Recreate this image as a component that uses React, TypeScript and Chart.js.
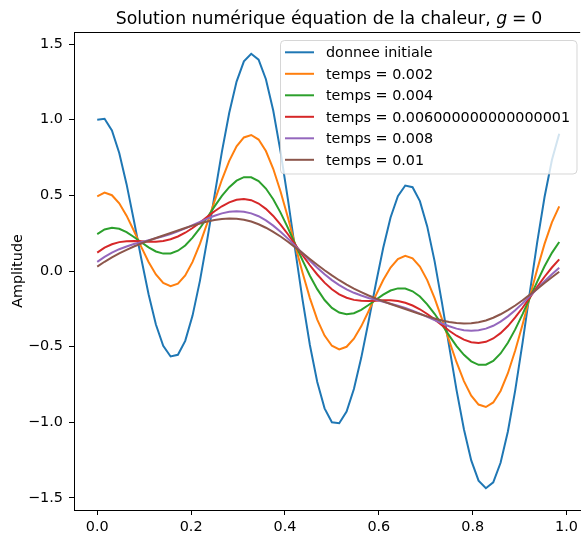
import { useEffect, useRef } from 'react';
import { Chart, registerables } from 'chart.js';

Chart.register(...registerables);

const xValues = [
  0.0, 0.0156, 0.0313, 0.0469, 0.0625, 0.0781, 0.0938, 0.1094, 0.125, 0.1406, 0.1563, 0.1719, 0.1875, 0.2031, 0.2188, 0.2344,
  0.25, 0.2656, 0.2813, 0.2969, 0.3125, 0.3281, 0.3438, 0.3594, 0.375, 0.3906, 0.4063, 0.4219, 0.4375, 0.4531, 0.4688, 0.4844,
  0.5, 0.5156, 0.5313, 0.5469, 0.5625, 0.5781, 0.5938, 0.6094, 0.625, 0.6406, 0.6563, 0.6719, 0.6875, 0.7031, 0.7188, 0.7344,
  0.75, 0.7656, 0.7813, 0.7969, 0.8125, 0.8281, 0.8438, 0.8594, 0.875, 0.8906, 0.9063, 0.9219, 0.9375, 0.9531, 0.9688, 0.9844,
];

const donneeInitiale = [
  1.0, 1.006, 0.929, 0.78, 0.574, 0.334, 0.083, -0.154, -0.354, -0.495, -0.565, -0.554, -0.462, -0.295, -0.065, 0.207,
  0.5, 0.788, 1.046, 1.252, 1.386, 1.436, 1.397, 1.268, 1.061, 0.789, 0.473, 0.138, -0.191, -0.489, -0.734, -0.908,
  -1.0, -1.006, -0.929, -0.78, -0.574, -0.334, -0.083, 0.154, 0.354, 0.495, 0.565, 0.554, 0.462, 0.295, 0.065, -0.207,
  -0.5, -0.788, -1.046, -1.252, -1.386, -1.436, -1.397, -1.268, -1.061, -0.789, -0.473, -0.138, 0.191, 0.489, 0.734, 0.908,
];

const temps0002 = [
  0.494, 0.518, 0.501, 0.448, 0.366, 0.266, 0.16, 0.06, -0.023, -0.079, -0.1, -0.084, -0.03, 0.06, 0.179, 0.316,
  0.462, 0.603, 0.728, 0.824, 0.883, 0.899, 0.869, 0.793, 0.676, 0.526, 0.353, 0.169, -0.012, -0.179, -0.321, -0.427,
  -0.494, -0.518, -0.501, -0.448, -0.366, -0.266, -0.16, -0.06, 0.023, 0.079, 0.1, 0.084, 0.03, -0.06, -0.179, -0.316,
  -0.462, -0.603, -0.728, -0.824, -0.883, -0.899, -0.869, -0.793, -0.676, -0.526, -0.353, -0.169, 0.012, 0.179, 0.321, 0.427,
];

const temps0004 = [
  0.244, 0.275, 0.286, 0.279, 0.257, 0.225, 0.19, 0.156, 0.129, 0.115, 0.116, 0.134, 0.169, 0.22, 0.283, 0.354,
  0.427, 0.496, 0.554, 0.597, 0.62, 0.619, 0.594, 0.545, 0.474, 0.386, 0.285, 0.177, 0.07, -0.031, -0.12, -0.192,
  -0.244, -0.275, -0.286, -0.279, -0.257, -0.225, -0.19, -0.156, -0.129, -0.115, -0.116, -0.134, -0.169, -0.22, -0.283, -0.354,
  -0.427, -0.496, -0.554, -0.597, -0.62, -0.619, -0.594, -0.545, -0.474, -0.386, -0.285, -0.177, -0.07, 0.031, 0.12, 0.192,
];

const temps0006 = [
  0.121, 0.154, 0.177, 0.191, 0.197, 0.198, 0.196, 0.193, 0.194, 0.199, 0.21, 0.228, 0.253, 0.284, 0.32, 0.358,
  0.395, 0.428, 0.454, 0.471, 0.476, 0.468, 0.446, 0.411, 0.364, 0.307, 0.243, 0.174, 0.105, 0.038, -0.023, -0.077,
  -0.121, -0.154, -0.177, -0.191, -0.197, -0.198, -0.196, -0.193, -0.194, -0.199, -0.21, -0.228, -0.253, -0.284, -0.32, -0.358,
  -0.395, -0.428, -0.454, -0.471, -0.476, -0.468, -0.446, -0.411, -0.364, -0.307, -0.243, -0.174, -0.105, -0.038, 0.023, 0.077,
];

const temps0008 = [
  0.06, 0.093, 0.121, 0.144, 0.162, 0.178, 0.191, 0.204, 0.216, 0.23, 0.245, 0.263, 0.282, 0.303, 0.325, 0.346,
  0.365, 0.381, 0.391, 0.395, 0.392, 0.381, 0.362, 0.335, 0.3, 0.26, 0.214, 0.166, 0.117, 0.068, 0.022, -0.021,
  -0.06, -0.093, -0.121, -0.144, -0.162, -0.178, -0.191, -0.204, -0.216, -0.23, -0.245, -0.263, -0.282, -0.303, -0.325, -0.346,
  -0.365, -0.381, -0.391, -0.395, -0.392, -0.381, -0.362, -0.335, -0.3, -0.26, -0.214, -0.166, -0.117, -0.068, -0.022, 0.021,
];

const temps001 = [
  0.029, 0.061, 0.09, 0.117, 0.14, 0.162, 0.182, 0.2, 0.218, 0.235, 0.251, 0.268, 0.284, 0.3, 0.314, 0.327,
  0.337, 0.344, 0.347, 0.345, 0.339, 0.327, 0.309, 0.286, 0.259, 0.228, 0.193, 0.156, 0.118, 0.079, 0.041, 0.005,
  -0.029, -0.061, -0.09, -0.117, -0.14, -0.162, -0.182, -0.2, -0.218, -0.235, -0.251, -0.268, -0.284, -0.3, -0.314, -0.327,
  -0.337, -0.344, -0.347, -0.345, -0.339, -0.327, -0.309, -0.286, -0.259, -0.228, -0.193, -0.156, -0.118, -0.079, -0.041, -0.005,
];

const seriesValues = [donneeInitiale, temps0002, temps0004, temps0006, temps0008, temps001];
const seriesLabels = [
  'donnee initiale',
  'temps = 0.002',
  'temps = 0.004',
  'temps = 0.006000000000000001',
  'temps = 0.008',
  'temps = 0.01',
];
const seriesColors = ['#1f77b4', '#ff7f0e', '#2ca02c', '#d62728', '#9467bd', '#8c564b'];

const xTicks = [0, 0.2, 0.4, 0.6, 0.8, 1.0];
const xTickLabels = ['0.0', '0.2', '0.4', '0.6', '0.8', '1.0'];
const yTicks = [-1.5, -1.0, -0.5, 0, 0.5, 1.0, 1.5];
const yTickLabels = ['\u22121.5', '\u22121.0', '\u22120.5', '0.0', '0.5', '1.0', '1.5'];

const titleText = 'Solution numérique équation de la chaleur, ';
const titleMathVar = 'g';
const titleMathRest = '0';
const yAxisTitle = 'Amplitude';

const FONT = '"DejaVu Sans"';

const decorPlugin = {
  id: 'decor',
  afterDraw(chart: any) {
    const ctx = chart.ctx as CanvasRenderingContext2D;
    const area = chart.chartArea;
    ctx.save();

    // top spine
    ctx.strokeStyle = '#000';
    ctx.lineWidth = 1;
    ctx.beginPath();
    ctx.moveTo(area.left, area.top + 0.5);
    ctx.lineTo(area.right, area.top + 0.5);
    ctx.stroke();

    // title
    const tSize = 17.3;
    const cx = (area.left + 584) / 2;
    const baseY = 23.5;
    ctx.fillStyle = '#000';
    ctx.textBaseline = 'alphabetic';
    ctx.textAlign = 'left';
    ctx.font = `${tSize}px ${FONT}`;
    const w1 = ctx.measureText(titleText).width;
    ctx.font = `italic ${tSize}px ${FONT}`;
    const wg = ctx.measureText(titleMathVar).width;
    ctx.font = `${tSize}px ${FONT}`;
    const weq = ctx.measureText('=').width;
    const w0 = ctx.measureText(titleMathRest).width;
    const gap = tSize * 0.28;
    const total = w1 + wg + gap + weq + gap + w0;
    let x = cx - total / 2;
    ctx.font = `${tSize}px ${FONT}`;
    ctx.fillText(titleText, x, baseY);
    x += w1;
    ctx.font = `italic ${tSize}px ${FONT}`;
    ctx.fillText(titleMathVar, x, baseY);
    x += wg + gap;
    ctx.font = `${tSize}px ${FONT}`;
    ctx.fillText('=', x, baseY);
    x += weq + gap;
    ctx.fillText(titleMathRest, x, baseY);

    // y axis title
    ctx.save();
    ctx.translate(21.5, (area.top + area.bottom) / 2);
    ctx.rotate(-Math.PI / 2);
    ctx.textAlign = 'center';
    ctx.textBaseline = 'alphabetic';
    ctx.font = `14.4px ${FONT}`;
    ctx.fillText(yAxisTitle, 0, 0);
    ctx.restore();

    // legend
    const bx = 280.5, by = 40.5, bw = 296.5, bh = 133.5, r = 4;
    ctx.beginPath();
    ctx.moveTo(bx + r, by);
    ctx.lineTo(bx + bw - r, by);
    ctx.arcTo(bx + bw, by, bx + bw, by + r, r);
    ctx.lineTo(bx + bw, by + bh - r);
    ctx.arcTo(bx + bw, by + bh, bx + bw - r, by + bh, r);
    ctx.lineTo(bx + r, by + bh);
    ctx.arcTo(bx, by + bh, bx, by + bh - r, r);
    ctx.lineTo(bx, by + r);
    ctx.arcTo(bx, by, bx + r, by, r);
    ctx.closePath();
    ctx.fillStyle = 'rgba(255,255,255,0.8)';
    ctx.fill();
    ctx.strokeStyle = 'rgba(204,204,204,0.8)';
    ctx.lineWidth = 1;
    ctx.stroke();

    const datasets = chart.data.datasets;
    ctx.font = `14.35px ${FONT}`;
    ctx.textAlign = 'left';
    ctx.textBaseline = 'alphabetic';
    for (let i = 0; i < datasets.length; i++) {
      const ry = 52.3 + i * 21.5;
      ctx.strokeStyle = datasets[i].borderColor;
      ctx.lineWidth = 2;
      ctx.beginPath();
      ctx.moveTo(285, ry);
      ctx.lineTo(314, ry);
      ctx.stroke();
      ctx.fillStyle = '#000';
      ctx.fillText(datasets[i].label, 326, ry + 5);
    }
    ctx.restore();
  },
};

export default function App() {
  const ref = useRef<HTMLCanvasElement | null>(null);

  useEffect(() => {
    if (!ref.current) return;
    Chart.defaults.font.family = FONT;
    const datasets = seriesValues.map((vals, k) => ({
      label: seriesLabels[k],
      data: xValues.map((x, i) => ({ x, y: vals[i] })),
      borderColor: seriesColors[k],
      backgroundColor: seriesColors[k],
      borderWidth: 2,
      pointRadius: 0,
      tension: 0,
      fill: false,
      order: seriesValues.length - 1 - k,
    }));

    const chart = new Chart(ref.current, {
      type: 'line',
      data: { datasets },
      options: {
        animation: false,
        responsive: false,
        devicePixelRatio: 1,
        layout: { padding: { top: 32, left: 0, right: 0, bottom: 0 } },
        plugins: {
          legend: { display: false },
          title: { display: false },
          tooltip: { enabled: false },
        },
        scales: {
          x: {
            type: 'linear',
            min: -0.0495,
            max: 1.029,
            afterBuildTicks: (s: any) => {
              s.ticks = xTicks.map((v) => ({ value: v }));
            },
            afterFit: (s: any) => {
              s.height = 26;
            },
            ticks: {
              callback: (_v: any, i: number) => xTickLabels[i],
              font: { size: 14.4 },
              color: '#000',
              padding: 4,
              maxRotation: 0,
              autoSkip: false,
            },
            grid: {
              display: true,
              drawOnChartArea: false,
              drawTicks: true,
              tickLength: 5,
              tickWidth: 1,
              tickColor: '#000',
            },
            border: { display: true, color: '#000', width: 1 },
          },
          y: {
            type: 'linear',
            min: -1.58,
            max: 1.58,
            afterBuildTicks: (s: any) => {
              s.ticks = yTicks.map((v) => ({ value: v }));
            },
            afterFit: (s: any) => {
              s.width = 74;
            },
            ticks: {
              callback: (_v: any, i: number) => yTickLabels[i],
              font: { size: 14.4 },
              color: '#000',
              padding: 6,
              autoSkip: false,
            },
            grid: {
              display: true,
              drawOnChartArea: false,
              drawTicks: true,
              tickLength: 5,
              tickWidth: 1,
              tickColor: '#000',
            },
            border: { display: true, color: '#000', width: 1 },
          },
        },
      },
      plugins: [decorPlugin],
    });
    return () => chart.destroy();
  }, []);

  return (
    <div style={{ position: 'absolute', left: 0, top: 0, width: 582, height: 536, background: '#fff' }}>
      <canvas ref={ref} width={582} height={536} style={{ display: 'block' }} />
    </div>
  );
}
